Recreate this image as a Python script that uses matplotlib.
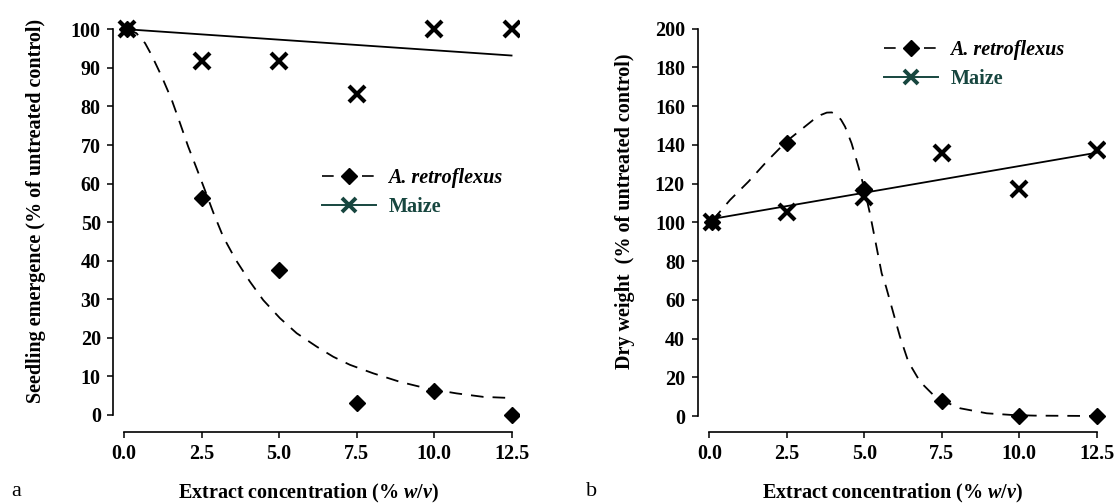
import matplotlib
matplotlib.use('Agg')
import matplotlib.pyplot as plt
from matplotlib.lines import Line2D

# Extract concentration (% w/v)
conc = [0.1, 2.5, 5.0, 7.5, 10.0, 12.5]

# (a) seedling emergence, % of untreated control
emerg_amaranth = [100, 56.3, 37.5, 3.1, 6.3, 0]
emerg_maize = [100, 91.7, 91.7, 83.3, 100, 100]

# fitted curves
emerg_fit_x = [0.1, 0.4, 0.68, 0.89, 1.22, 1.54, 1.81, 2.07, 2.34, 2.61, 2.88, 3.2, 3.6,
               4.06, 4.49, 5.03, 5.57, 6.22, 6.75, 7.29, 8.04, 8.9, 9.76, 10.73, 11.59, 12.5]
emerg_fit_y = [100, 99, 96.4, 93.3, 87.7, 81.7, 75.6, 69.6, 64, 58.3, 52.5, 46.2, 40.3,
               34.6, 29.8, 25.1, 21.2, 17.7, 15.1, 13.0, 10.8, 8.6, 6.9, 5.6, 4.7, 4.4]
emerg_maize_trend = [100, 93.2]  # at 0.1 and 12.5

# (b) dry weight, % of untreated control
dry_amaranth = [100, 141.2, 117.5, 7.9, 0, 0]
dry_maize = [100, 105.5, 113.3, 136, 117, 137.5]

dry_fit_x = [0.1, 0.67, 1.26, 1.85, 2.5, 2.93, 3.35, 3.6, 3.79, 3.95, 4.11, 4.25, 4.38,
             4.59, 4.81, 5.0, 5.18, 5.35, 5.56, 5.7, 5.94, 6.15, 6.42, 6.8, 7.23, 7.52,
             8.09, 8.95, 9.8, 10.5, 12.5]
dry_fit_y = [101, 111.6, 121, 131.4, 142, 147.5, 152.9, 155.5, 156.7, 156.8, 155.5, 153,
             149.4, 140.8, 128.8, 117.5, 104.7, 90.9, 73.7, 66.8, 53, 41, 28, 17.7, 10.8,
             7.9, 4.0, 1.4, 0.5, 0.2, 0]
dry_maize_trend = [101.8, 136]  # at 0.1 and 12.5

teal = '#17463F'
plt.rcParams['font.family'] = 'Liberation Serif'
plt.rcParams['font.weight'] = 'bold'
plt.rcParams['mathtext.fontset'] = 'custom'
plt.rcParams['mathtext.rm'] = 'Liberation Serif:bold'
plt.rcParams['mathtext.it'] = 'Liberation Serif:italic:bold'

FS = 14.5
W, H = 1117, 504

fig = plt.figure(figsize=(W / 100, H / 100), dpi=100)


def px_axes(left, right, top, bottom):
    return fig.add_axes([left / W, 1 - bottom / H, (right - left) / W, (bottom - top) / H])


def style_axes(ax, xlim, ylim, ytop, ystep):
    ax.set_xlim(*xlim)
    ax.set_ylim(*ylim)
    for s in ['top', 'right']:
        ax.spines[s].set_visible(False)
    ax.spines['left'].set_bounds(0, ytop)
    ax.spines['bottom'].set_bounds(0, 12.5)
    for s in ['left', 'bottom']:
        ax.spines[s].set_linewidth(1.2)
    ax.set_xticks([0, 2.5, 5, 7.5, 10, 12.5])
    ax.set_xticklabels(['0.0', '2.5', '5.0', '7.5', '10.0', '12.5'])
    ax.set_yticks(list(range(0, ytop + 1, ystep)))
    ax.tick_params(direction='out', length=4, width=1.1, labelsize=FS, pad=5)
    ax.set_xlabel(r'Extract concentration (% $w/v$)', fontsize=FS, fontweight='bold')
    ax.xaxis.set_label_coords(0.48, -0.12)


def add_legend(ax, x, y):
    handles = [
        Line2D([], [], color='black', lw=1.2, ls=(0, (7, 5)), marker='D', markersize=8),
        Line2D([], [], color=teal, lw=1.4, marker='x', markersize=9.5, markeredgewidth=2.8),
    ]
    leg = ax.legend(handles, ['A. retroflexus', 'Maize'], loc='upper left',
                    bbox_to_anchor=(x / W, 1 - y / H), bbox_transform=fig.transFigure,
                    frameon=False, fontsize=FS, handlelength=2.7, handletextpad=0.6,
                    labelspacing=0.45, borderpad=0, borderaxespad=0)
    t = leg.get_texts()
    t[0].set_style('italic')
    t[0].set_fontweight('bold')
    t[1].set_color(teal)
    t[1].set_fontweight('bold')


def draw(ax, amaranth, maize, fit_x, fit_y, trend):
    ax.plot(fit_x, fit_y, color='black', lw=1.3, ls=(0, (7, 5)))
    ax.plot([conc[0], conc[-1]], trend, color='black', lw=1.3)
    ax.plot(conc, amaranth, ls='none', marker='D', markersize=8.5, color='black')
    ax.plot(conc, maize, ls='none', marker='x', markersize=11, markeredgewidth=3,
            color='black')


# panel a
ax1 = px_axes(113.3, 519.3, 15.8, 431.7)
draw(ax1, emerg_amaranth, emerg_maize, emerg_fit_x, emerg_fit_y, emerg_maize_trend)
style_axes(ax1, (-0.345, 12.75), (-4.33, 103.5), 100, 10)
ax1.set_ylabel('Seedling emergence (% of untreated control)', fontsize=FS, fontweight='bold')
ax1.yaxis.set_label_coords(-0.165, 0.53)
add_legend(ax1, 322, 168)

# panel b
ax2 = px_axes(697.5, 1104.6, 15.8, 431.7)
draw(ax2, dry_amaranth, dry_maize, dry_fit_x, dry_fit_y, dry_maize_trend)
style_axes(ax2, (-0.38, 12.75), (-8.1, 206.7), 200, 20)
ax2.set_ylabel('Dry weight  (% of untreated control)', fontsize=FS, fontweight='bold')
ax2.yaxis.set_label_coords(-0.153, 0.53)
add_legend(ax2, 884, 40)

fig.text(16 / W, 1 - 492 / H, 'a', fontsize=16, fontweight='normal', ha='center', va='center')
fig.text(592 / W, 1 - 492 / H, 'b', fontsize=16, fontweight='normal', ha='center', va='center')

fig.savefig('out.png', dpi=100)
